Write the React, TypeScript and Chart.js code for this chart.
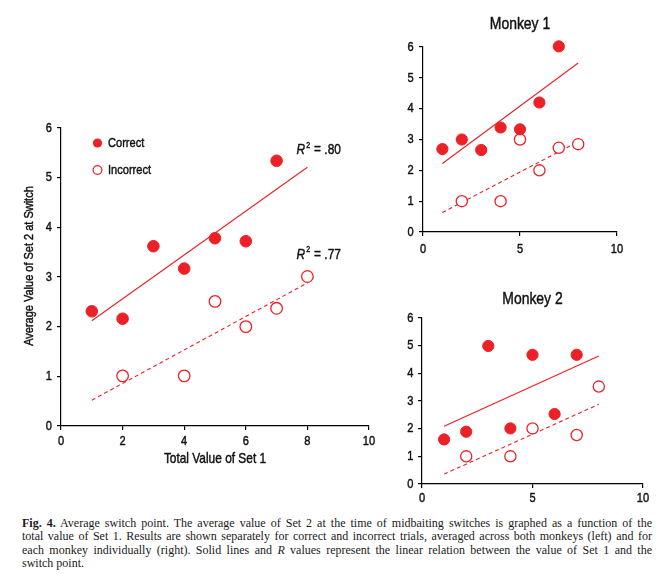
import React, { useEffect, useRef } from "react";
import { Chart, registerables } from "chart.js";

Chart.register(...registerables);

// ---------- data ----------
const fitX = [1, 8];

// Both monkeys combined (left panel)
const allCorrectX = [1, 2, 3, 4, 5, 6, 7];
const allCorrectY = [2.31, 2.16, 3.62, 3.17, 3.78, 3.72, 5.34];
const allIncorrectX = [2, 4, 5, 6, 7, 8];
const allIncorrectY = [1.01, 1.01, 2.51, 2.0, 2.37, 3.01];
const allCorrectFit = [2.12, 5.21];
const allIncorrectFit = [0.52, 2.88];
const r2Labels = [".80", ".77"];
const r2AnchorX = 7.65;
const r2AnchorY = [5.55, 3.44];

// Monkey 1
const m1CorrectX = [1, 2, 3, 4, 5, 6, 7];
const m1CorrectY = [2.69, 3.0, 2.66, 3.39, 3.33, 4.2, 6.02];
const m1IncorrectX = [2, 4, 5, 6, 7, 8];
const m1IncorrectY = [1.0, 1.0, 3.0, 2.0, 2.73, 2.85];
const m1CorrectFit = [2.22, 5.48];
const m1IncorrectFit = [0.63, 2.93];

// Monkey 2
const m2CorrectX = [1, 2, 3, 4, 5, 6, 7];
const m2CorrectY = [1.61, 1.89, 4.99, 2.01, 4.67, 2.53, 4.67];
const m2IncorrectX = [2, 4, 5, 7, 8];
const m2IncorrectY = [1.0, 1.0, 2.01, 1.77, 3.52];
const m2CorrectFit = [2.09, 4.63];
const m2IncorrectFit = [0.36, 2.88];

const xTicksMain = [0, 2, 4, 6, 8, 10];
const xTicksMonkey = [0, 5, 10];
const yTicks = [0, 1, 2, 3, 4, 5, 6];

const seriesLabels = ["Correct", "Incorrect"];
const xTitleMain = "Total Value of Set 1";
const yTitleMain = "Average Value of Set 2 at Switch";
const panelTitles = ["Monkey 1", "Monkey 2"];

const captionLines = [
  "Average switch point. The average value of Set 2 at the time of midbaiting switches is graphed as a function of the",
  "total value of Set 1. Results are shown separately for correct and incorrect trials, averaged across both monkeys (left) and for",
  "each monkey individually (right). Solid lines and ",
  " values represent the linear relation between the value of Set 1 and the",
  "switch point.",
];

// ---------- styles ----------
const RED = "rgb(236,32,39)";
const INK = "#111";
const SANS = "'Liberation Sans', Arial, sans-serif";
const SQ = 0.82; // horizontal squeeze to mimic a condensed face

const zip = (xs: number[], ys: number[]) => xs.map((x, i) => ({ x, y: ys[i] }));

function condText(
  ctx: CanvasRenderingContext2D,
  text: string,
  x: number,
  y: number,
  size: number,
  align: CanvasTextAlign,
  baseline: CanvasTextBaseline,
  italic = false,
  rotate = 0
): number {
  ctx.save();
  ctx.font = `${italic ? "italic " : ""}${size}px ${SANS}`;
  ctx.textAlign = align;
  ctx.textBaseline = baseline;
  ctx.fillStyle = INK;
  ctx.strokeStyle = INK;
  ctx.lineWidth = 0.45;
  ctx.lineJoin = "round";
  ctx.translate(x, y);
  if (rotate) ctx.rotate(rotate);
  ctx.scale(SQ, 1);
  ctx.fillText(text, 0, 0);
  ctx.strokeText(text, 0, 0);
  const w = ctx.measureText(text).width * SQ;
  ctx.restore();
  return w;
}

type PanelSpec = {
  cx: number[]; cy: number[]; ix: number[]; iy: number[];
  cf: number[]; inf: number[];
  xTicks: number[];
  radius: number;
  yWidth: number; xHeight: number;
  padding: { left: number; right: number; top: number; bottom: number };
  tickLength: number;
  yLabelGap: number; xLabelBase: number;
  extraPlugins: any[];
};

const tickLabelPlugin = (p: PanelSpec) => ({
  id: "condTicks",
  afterDraw(chart: any) {
    const { ctx, scales } = chart;
    const xs = scales.x;
    const ys = scales.y;
    xs.ticks.forEach((t: any) => {
      condText(ctx, String(t.value), xs.getPixelForValue(t.value), xs.top + p.xLabelBase, 13.5, "center", "alphabetic");
    });
    ys.ticks.forEach((t: any) => {
      condText(ctx, String(t.value), ys.right - p.yLabelGap, ys.getPixelForValue(t.value), 13.5, "right", "middle");
    });
  },
});

function buildConfig(p: PanelSpec): any {
  const axisCommon = {
    type: "linear",
    border: { display: true, color: "#000", width: 1.2 },
    grid: { drawOnChartArea: false, drawTicks: true, tickLength: p.tickLength, color: "#000", lineWidth: 1.2 },
    ticks: { display: false, autoSkip: false },
  };
  return {
    type: "scatter",
    data: {
      datasets: [
        {
          label: seriesLabels[0],
          data: zip(p.cx, p.cy),
          backgroundColor: RED,
          borderColor: RED,
          borderWidth: 1,
          pointRadius: p.radius,
          clip: false,
          order: 1,
        },
        {
          label: seriesLabels[1],
          data: zip(p.ix, p.iy),
          backgroundColor: "#fff",
          borderColor: RED,
          borderWidth: 1.3,
          pointRadius: p.radius,
          clip: false,
          order: 1,
        },
        {
          type: "line",
          data: zip(fitX, p.cf),
          borderColor: RED,
          borderWidth: 1.1,
          pointRadius: 0,
          fill: false,
          order: 2,
        },
        {
          type: "line",
          data: zip(fitX, p.inf),
          borderColor: RED,
          borderWidth: 1.1,
          borderDash: [4, 3],
          pointRadius: 0,
          fill: false,
          order: 2,
        },
      ],
    },
    options: {
      animation: false,
      responsive: false,
      events: [],
      layout: { padding: p.padding },
      plugins: { legend: { display: false }, tooltip: { enabled: false }, title: { display: false } },
      scales: {
        x: {
          ...axisCommon,
          min: 0,
          max: 10,
          afterBuildTicks: (s: any) => { s.ticks = p.xTicks.map((v) => ({ value: v })); },
          afterFit: (s: any) => { s.height = p.xHeight; },
        },
        y: {
          ...axisCommon,
          min: 0,
          max: 6,
          afterBuildTicks: (s: any) => { s.ticks = yTicks.map((v) => ({ value: v })); },
          afterFit: (s: any) => { s.width = p.yWidth; },
        },
      },
    },
    plugins: [tickLabelPlugin(p), ...p.extraPlugins],
  };
}

const mainDecor = {
  id: "mainDecor",
  afterDraw(chart: any) {
    const { ctx, chartArea: a, scales } = chart;
    ctx.save();
    // legend
    const lx = a.left + 36.5;
    const ly = [a.top + 15, a.top + 42];
    ctx.fillStyle = RED;
    ctx.beginPath();
    ctx.arc(lx, ly[0], 4.6, 0, Math.PI * 2);
    ctx.fill();
    ctx.fillStyle = "#fff";
    ctx.strokeStyle = RED;
    ctx.lineWidth = 1.2;
    ctx.beginPath();
    ctx.arc(lx, ly[1], 4.4, 0, Math.PI * 2);
    ctx.fill();
    ctx.stroke();
    ctx.restore();
    condText(ctx, seriesLabels[0], lx + 10.5, ly[0], 13.5, "left", "middle");
    condText(ctx, seriesLabels[1], lx + 10.5, ly[1], 13.5, "left", "middle");
    // R^2 labels
    r2Labels.forEach((t, i) => {
      const x = scales.x.getPixelForValue(r2AnchorX);
      const y = scales.y.getPixelForValue(r2AnchorY[i]);
      const wR = condText(ctx, "R", x, y, 14.5, "left", "middle", true);
      const w2 = condText(ctx, "2", x + wR + 1, y - 5, 8.5, "left", "middle");
      condText(ctx, "= " + t, x + wR + w2 + 5, y, 14.5, "left", "middle");
    });
    // axis titles
    condText(ctx, xTitleMain, (a.left + a.right) / 2, a.bottom + 37, 14.5, "center", "alphabetic");
    condText(ctx, yTitleMain, a.left - 28.5, (a.top + a.bottom) / 2 - 11, 13.4, "center", "alphabetic", false, -Math.PI / 2);
  },
};

const panelTitle = (text: string, offset: number) => ({
  id: "panelTitle",
  afterDraw(chart: any) {
    const { ctx, chartArea: a } = chart;
    condText(ctx, text, (a.left + a.right) / 2, a.top - offset, 17, "center", "alphabetic");
  },
});

function ChartCanvas({ spec, left, top, width, height }: { spec: PanelSpec; left: number; top: number; width: number; height: number }) {
  const ref = useRef<HTMLCanvasElement | null>(null);
  useEffect(() => {
    if (!ref.current) return;
    const chart = new Chart(ref.current, buildConfig(spec));
    return () => chart.destroy();
  }, []);
  return (
    <canvas
      ref={ref}
      width={width}
      height={height}
      style={{ position: "absolute", left, top, width, height }}
    />
  );
}

const mainSpec: PanelSpec = {
  cx: allCorrectX, cy: allCorrectY, ix: allIncorrectX, iy: allIncorrectY,
  cf: allCorrectFit, inf: allIncorrectFit,
  xTicks: xTicksMain, radius: 5.8,
  yWidth: 46, xHeight: 39,
  padding: { left: 0, right: 11, top: 18, bottom: 5 },
  tickLength: 4, yLabelGap: 9, xLabelBase: 19,
  extraPlugins: [mainDecor],
};

const m1Spec: PanelSpec = {
  cx: m1CorrectX, cy: m1CorrectY, ix: m1IncorrectX, iy: m1IncorrectY,
  cf: m1CorrectFit, inf: m1IncorrectFit,
  xTicks: xTicksMonkey, radius: 5.6,
  yWidth: 33, xHeight: 24,
  padding: { left: 0, right: 41, top: 47, bottom: 6 },
  tickLength: 4, yLabelGap: 9.3, xLabelBase: 20.5,
  extraPlugins: [panelTitle(panelTitles[0], 18.3)],
};

const m2Spec: PanelSpec = {
  cx: m2CorrectX, cy: m2CorrectY, ix: m2IncorrectX, iy: m2IncorrectY,
  cf: m2CorrectFit, inf: m2IncorrectFit,
  xTicks: xTicksMonkey, radius: 5.6,
  yWidth: 32, xHeight: 24,
  padding: { left: 0, right: 17, top: 38, bottom: 2 },
  tickLength: 4, yLabelGap: 8.5, xLabelBase: 18,
  extraPlugins: [panelTitle(panelTitles[1], 14)],
};

const lineStyle: React.CSSProperties = {
  textAlign: "justify",
  textAlignLast: "justify" as any,
  whiteSpace: "nowrap",
  height: 13.3,
  lineHeight: "13.3px",
};

export default function App() {
  return (
    <div style={{ position: "absolute", left: 0, top: 0, width: 668, height: 582, background: "#fff", overflow: "hidden" }}>
      <ChartCanvas spec={mainSpec} left={15} top={110} width={365} height={360} />
      <ChartCanvas spec={m1Spec} left={390} top={0} width={268} height={262} />
      <ChartCanvas spec={m2Spec} left={390} top={280} width={270} height={230} />
      <div
        style={{
          position: "absolute",
          left: 22,
          top: 517,
          width: 630,
          fontFamily: "'Liberation Serif', 'Times New Roman', serif",
          fontSize: 12,
          color: "#1a1a1a",
        }}
      >
        <div style={lineStyle}>
          <b>Fig. 4.</b> {captionLines[0]}
        </div>
        <div style={lineStyle}>{captionLines[1]}</div>
        <div style={lineStyle}>
          {captionLines[2]}
          <i>R</i>
          {captionLines[3]}
        </div>
        <div style={{ ...lineStyle, textAlign: "left", textAlignLast: "left" as any }}>{captionLines[4]}</div>
      </div>
    </div>
  );
}
